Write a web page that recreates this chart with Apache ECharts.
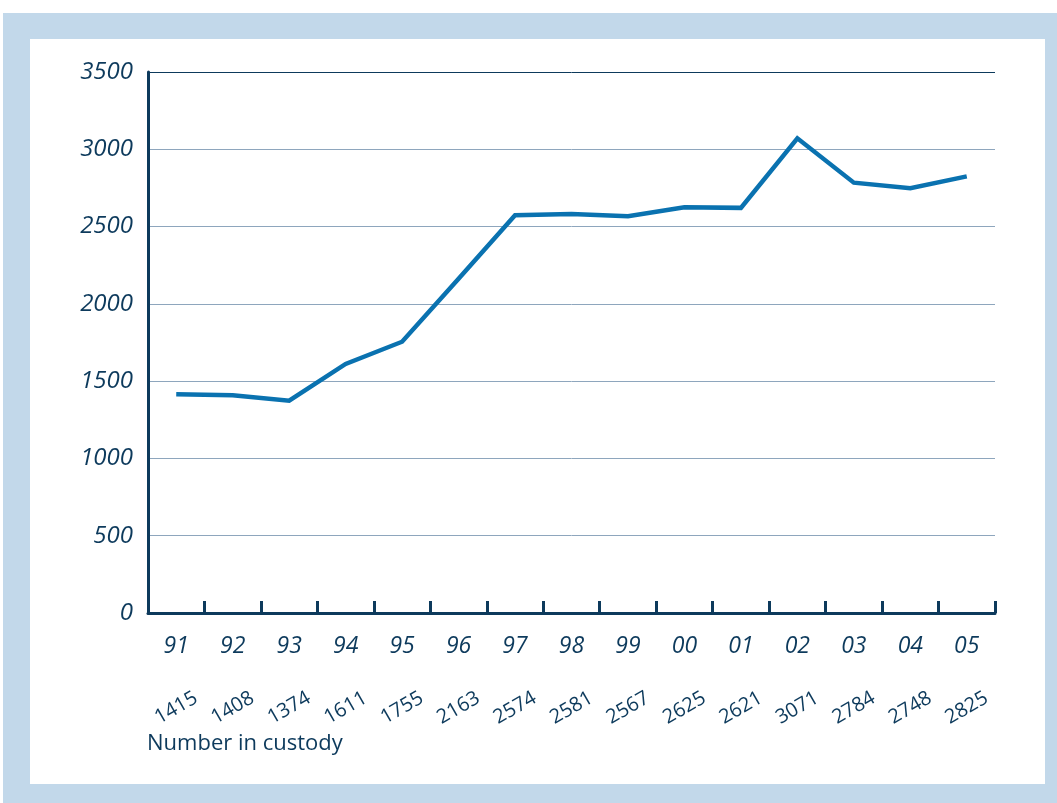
<!DOCTYPE html>
<html>
<head>
<meta charset="utf-8">
<script src="https://cdn.jsdelivr.net/npm/echarts@6/dist/echarts.min.js"></script>
<style>
html,body{margin:0;padding:0;background:#fff;}
#frame{position:absolute;left:3px;top:13px;width:1054px;height:790px;background:#c2d8ea;}
#panel{position:absolute;left:30px;top:39px;width:1015px;height:745px;background:#fff;}
#c{position:absolute;left:0;top:0;width:1057px;height:803px;}
</style>
</head>
<body>
<div id="frame"></div>
<div id="panel"></div>
<div id="c"></div>
<script>
const years = ['91','92','93','94','95','96','97','98','99','00','01','02','03','04','05'];
const custody = [1415,1408,1374,1611,1755,2163,2574,2581,2567,2625,2621,3071,2784,2748,2825];
const yTicks = [0,500,1000,1500,2000,2500,3000,3500];
const axisTitle = 'Number in custody';

const navy = '#0d3a5c';
const chart = echarts.init(document.getElementById('c'));
chart.setOption({
  animation: false,
  backgroundColor: 'transparent',
  grid: {left: 148, top: 72, right: 62, bottom: 190},
  xAxis: [{
    type: 'category',
    data: years,
    boundaryGap: true,
    axisLine: {lineStyle: {color: navy, width: 3}},
    axisTick: {show: true, inside: true, length: 12, alignWithLabel: false, lineStyle: {color: navy, width: 3}},
    axisLabel: {
      color: navy, fontSize: 23, fontStyle: 'italic', fontFamily: 'Open Sans',
      margin: 33, verticalAlign: 'middle', interval: 0
    }
  }, {
    type: 'category',
    data: custody.map(String),
    position: 'bottom',
    boundaryGap: true,
    axisLine: {show: false},
    axisTick: {show: false},
    axisLabel: {
      color: navy, fontSize: 20, fontFamily: 'Open Sans',
      rotate: 30, align: 'center', verticalAlign: 'middle',
      margin: 95, interval: 0
    }
  }],
  yAxis: {
    type: 'value',
    min: yTicks[0], max: yTicks[yTicks.length - 1], interval: 500,
    axisLine: {show: true, lineStyle: {color: navy, width: 3}},
    axisTick: {show: false},
    axisLabel: {
      color: navy, fontSize: 24, fontStyle: 'italic', fontFamily: 'Open Sans', margin: 15,
      formatter: v => String(v)
    },
    splitLine: {lineStyle: {color: ['#8ea6bd','#8ea6bd','#8ea6bd','#8ea6bd','#8ea6bd','#8ea6bd','#8ea6bd', navy], width: 1}}
  },
  graphic: [{
    type: 'text', left: 147, top: 733,
    style: {text: axisTitle, fill: navy, fontSize: 22, fontFamily: 'Open Sans'}
  }],
  series: [{
    type: 'line',
    data: custody,
    xAxisIndex: 0,
    symbol: 'none',
    lineStyle: {color: '#0a72b0', width: 4.5, join: 'miter'}
  }]
});
</script>
</body>
</html>
